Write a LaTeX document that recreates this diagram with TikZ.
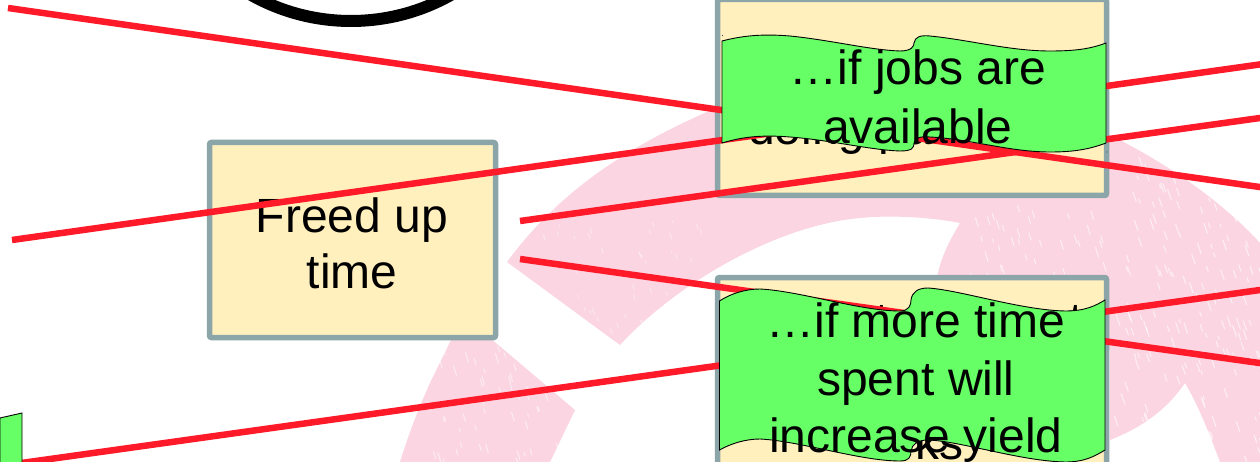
\documentclass[tikz,border=0pt]{standalone}
\usepackage{fontspec}
\setmainfont{Liberation Sans}
\definecolor{boxfill}{HTML}{FFF0BE}
\definecolor{boxline}{HTML}{8CA5A8}
\definecolor{flaggreen}{HTML}{66FF66}
\definecolor{redline}{HTML}{FF1A2A}
\definecolor{logopink}{HTML}{FBD5E1}
\tikzset{
  notebox/.style={draw=boxline,line width=5.5pt,fill=boxfill,rounded corners=2pt,rectangle,inner sep=0pt,align=center,font=\fontsize{48}{56}\selectfont},
  redlink/.style={draw=redline,line width=6.5pt},
  flagshape/.style={draw=black,line width=0.9pt,fill=flaggreen},
  flagtext/.style={inner sep=0pt,align=center,font=\fontsize{48}{57.5}\selectfont},
  hiddentext/.style={inner sep=0pt,anchor=base west,font=\fontsize{48}{56}\selectfont},
}
\begin{document}
\begin{tikzpicture}[x=1pt,y=-1pt]
\clip[use as bounding box] (0,0) rectangle (1260,462);
\fill[white] (0,0) rectangle (1260,462);
% background logo
\fill[logopink] (507,262) .. controls (560,190) and (630,145) .. (716,108) -- (1110,135)
  .. controls (1180,170) and (1230,210) .. (1260,243) -- (1260,462) -- (1220,462)
  .. controls (1208,430) and (1198,405) .. (1185,383) .. controls (1165,412) and (1140,428) .. (1110,440)
  -- (1110,350) -- (930,350) -- (938,273) .. controls (942,255) and (950,240) .. (960,223)
  .. controls (930,217) and (890,215) .. (860,218) .. controls (780,225) and (680,280) .. (620,345) -- cycle;
\fill[logopink] (400,462) .. controls (410,430) and (420,405) .. (430,383) -- (452,338) -- (490,338) -- (575,410) -- (550,462) -- cycle;
% worn print texture of the logo
\pgfmathsetseed{4217}
\foreach \i in {1,...,170}{
  \pgfmathsetmacro{\sx}{1110+150*rnd}
  \pgfmathsetmacro{\sy}{150+310*rnd}
  \pgfmathsetmacro{\sl}{3+8*rnd}
  \draw[white,opacity=.55,line width=1.2pt,line cap=round] (\sx,\sy) -- ++(0.35*\sl,\sl);
}
\foreach \i in {1,...,60}{
  \pgfmathsetmacro{\sx}{410+160*rnd}
  \pgfmathsetmacro{\sy}{345+115*rnd}
  \pgfmathsetmacro{\sl}{3+7*rnd}
  \draw[white,opacity=.5,line width=1.1pt,line cap=round] (\sx,\sy) -- ++(0.3*\sl,\sl);
}
\foreach \i in {1,...,50}{
  \pgfmathsetmacro{\sx}{540+175*rnd}
  \pgfmathsetmacro{\sy}{200+130*rnd}
  \pgfmathsetmacro{\sl}{2+4*rnd}
  \draw[white,opacity=.4,line width=1pt,line cap=round] (\sx,\sy) -- ++(0.3*\sl,\sl);
}
\foreach \i in {1,...,35}{
  \pgfmathsetmacro{\sx}{970+135*rnd}
  \pgfmathsetmacro{\sy}{198+78*rnd}
  \pgfmathsetmacro{\sl}{3+7*rnd}
  \draw[white,opacity=.55,line width=1.1pt,line cap=round] (\sx,\sy) -- ++(0.3*\sl,\sl);
}
% ring
\draw[line width=12pt,black] (351,-183) circle (204);
% boxes
\node[notebox,minimum width=286pt,minimum height=195pt,text depth=0pt] (freed) at (352.5,240) {};
\node[inner sep=0pt,align=center,font=\fontsize{48}{56}\selectfont] (freedtext) at (352,243) {Freed up\\time};
\node[notebox,minimum width=389pt,minimum height=196pt] (topbox) at (912,97.5) {};
\node[notebox,minimum width=389pt,minimum height=300pt] (lowbox) at (912,427.5) {};
\node[hiddentext] (doing) at (748,145) {doing paid};
\node[hiddentext] (tleft) at (875,336) {t};
\node[hiddentext] (tright) at (1069,336) {t};
\node[hiddentext] (ks) at (915,459) {ks};
% red connectors
\coordinate (a1) at (8,8);    \coordinate (a2) at (1270,188.5);
\coordinate (b1) at (12,240); \coordinate (b2) at (1270,63);
\coordinate (c1) at (520,221);\coordinate (c2) at (1270,116.6);
\coordinate (d1) at (520,259);\coordinate (d2) at (1270,364.5);
\coordinate (e1) at (0,466);  \coordinate (e2) at (1270,288.6);
\draw[redlink] (a1) -- (a2);
\draw[redlink] (b1) -- (b2);
\draw[redlink] (c1) -- (c2);
\draw[redlink] (d1) -- (d2);
\draw[redlink] (e1) -- (e2);
% flags
\path[flagshape] (0,418) -- (22,413) -- (22,470) -- (0,470) -- cycle;
\path[flagshape] (722,41) .. controls (745,35) and (765,34) .. (790,36)
  .. controls (830,40) and (870,50) .. (900,51) .. controls (912,51) and (914,46) .. (914,43)
  .. controls (915,37) and (920,35) .. (930,36) .. controls (970,40) and (1010,51) .. (1050,51)
  .. controls (1075,51) and (1090,49) .. (1106,43) -- (1106,143)
  .. controls (1090,149) and (1075,152) .. (1050,152) .. controls (1010,152) and (970,139) .. (930,137)
  .. controls (920,136) and (915,138) .. (914,143) .. controls (914,148) and (912,151) .. (900,151)
  .. controls (870,150) and (830,140) .. (790,137) .. controls (765,135) and (745,136) .. (722,143) -- cycle;
\path[flagshape] (719.5,301) .. controls (730,294) and (745,289) .. (760,289)
  .. controls (800,291) and (860,311) .. (900,311) .. controls (909,311) and (911,305) .. (911,300)
  .. controls (912,292) and (918,288) .. (928,288) .. controls (960,290) and (1020,310) .. (1065,311)
  .. controls (1085,311) and (1095,306) .. (1105,300) -- (1105,450)
  .. controls (1095,456) and (1085,462) .. (1065,462) .. controls (1020,461) and (960,441) .. (928,440)
  .. controls (918,440) and (912,444) .. (911,451) .. controls (911,457) and (909,461) .. (900,461)
  .. controls (860,461) and (800,441) .. (760,439) .. controls (745,439) and (730,444) .. (719.5,450) -- cycle;
\node[flagtext,font=\fontsize{48}{59}\selectfont] (jobs) at (918,97) {…if jobs are\\available};
\node[flagtext] (more) at (916,383) {…if more time\\spent will\\increase yield};
\fill[black!70] (722.5,35.5) circle (0.6) (1107,152) circle (0.6);
\end{tikzpicture}
\end{document}
